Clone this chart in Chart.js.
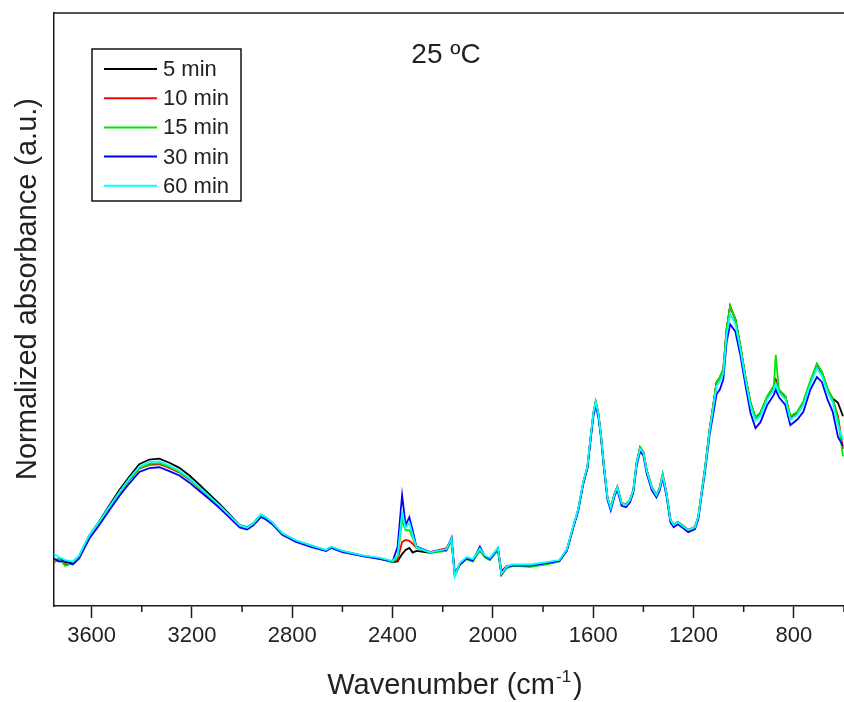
<!DOCTYPE html>
<html>
<head>
<meta charset="utf-8">
<script src="https://cdn.jsdelivr.net/npm/chart.js@4.4.0/dist/chart.umd.min.js"></script>
<style>
  html, body { margin: 0; padding: 0; background: #fff; overflow: hidden; }
</style>
</head>
<body>
<canvas id="grafico" width="844" height="702"></canvas>
<script>
// numero de onda (cm-1), comum a todas as curvas
var wavenumber = [3750,3730,3705,3675,3650,3610,3570,3530,3490,3450,
    3410,3370,3330,3290,3250,3210,3170,3130,3090,3050,
    3010,2980,2955,2925,2905,2880,2840,2785,2720,2665,
    2645,2600,2520,2450,2400,2380,2362,2348,2333,2320,
    2305,2250,2185,2165,2152,2132,2105,2080,2052,2032,
    2012,1980,1966,1944,1920,1850,1785,1735,1705,1680,
    1660,1640,1623,1610,1599,1590,1580,1570,1557,1543,
    1530,1514,1504,1487,1469,1453,1440,1427,1413,1400,
    1387,1367,1348,1335,1323,1308,1292,1279,1263,1247,
    1221,1194,1181,1168,1154,1136,1121,1108,1095,1081,
    1068,1054,1033,1013,993,973,953,933,906,880,
    872,860,834,814,787,762,735,708,688,665,
    645,624,604];

var abs5min = [0.152,0.160,0.148,0.145,0.168,0.236,0.285,0.338,0.390,0.436,
    0.478,0.494,0.497,0.483,0.466,0.440,0.409,0.376,0.344,0.309,
    0.273,0.265,0.279,0.308,0.298,0.281,0.244,0.220,0.202,0.188,
    0.199,0.185,0.170,0.160,0.148,0.150,0.175,0.189,0.196,0.180,
    0.186,0.179,0.190,0.220,0.110,0.140,0.160,0.152,0.188,0.165,
    0.156,0.190,0.105,0.130,0.136,0.134,0.143,0.151,0.189,0.266,
    0.324,0.415,0.469,0.570,0.651,0.688,0.651,0.583,0.469,0.364,
    0.331,0.381,0.401,0.347,0.341,0.358,0.391,0.482,0.534,0.519,
    0.459,0.401,0.374,0.398,0.442,0.381,0.290,0.273,0.283,0.273,
    0.256,0.266,0.300,0.381,0.465,0.594,0.678,0.754,0.770,0.798,
    0.933,1.012,0.966,0.874,0.772,0.685,0.634,0.651,0.705,0.740,
    0.762,0.728,0.705,0.637,0.651,0.686,0.753,0.814,0.787,0.729,
    0.700,0.685,0.640];

var abs10min = [0.148,0.158,0.140,0.142,0.162,0.230,0.279,0.330,0.380,0.424,
    0.463,0.476,0.478,0.466,0.450,0.426,0.397,0.367,0.336,0.304,
    0.270,0.262,0.276,0.306,0.297,0.281,0.244,0.220,0.202,0.188,
    0.198,0.185,0.170,0.161,0.150,0.155,0.216,0.223,0.220,0.210,
    0.196,0.182,0.195,0.226,0.108,0.142,0.162,0.155,0.192,0.168,
    0.160,0.194,0.118,0.135,0.138,0.138,0.146,0.153,0.189,0.266,
    0.325,0.416,0.470,0.571,0.652,0.688,0.652,0.584,0.470,0.364,
    0.332,0.382,0.402,0.348,0.342,0.358,0.391,0.483,0.535,0.520,
    0.460,0.402,0.375,0.399,0.443,0.382,0.291,0.274,0.283,0.274,
    0.257,0.266,0.301,0.382,0.466,0.595,0.680,0.756,0.770,0.798,
    0.933,1.010,0.967,0.875,0.773,0.686,0.635,0.652,0.706,0.741,
    0.760,0.730,0.707,0.638,0.653,0.688,0.756,0.815,0.788,0.730,
    0.697,0.640,0.530];

var abs15min = [0.150,0.160,0.135,0.145,0.165,0.233,0.280,0.331,0.381,0.425,
    0.465,0.479,0.482,0.469,0.452,0.428,0.398,0.368,0.337,0.304,
    0.270,0.263,0.277,0.307,0.297,0.280,0.243,0.219,0.201,0.187,
    0.199,0.184,0.169,0.160,0.148,0.165,0.290,0.256,0.256,0.230,
    0.196,0.179,0.186,0.223,0.101,0.138,0.158,0.150,0.190,0.165,
    0.155,0.192,0.110,0.128,0.135,0.132,0.140,0.150,0.189,0.266,
    0.324,0.415,0.469,0.570,0.651,0.690,0.651,0.583,0.469,0.364,
    0.331,0.381,0.401,0.347,0.341,0.358,0.391,0.482,0.536,0.519,
    0.459,0.401,0.374,0.398,0.445,0.381,0.290,0.273,0.283,0.273,
    0.256,0.266,0.300,0.381,0.465,0.594,0.678,0.755,0.772,0.800,
    0.935,1.012,0.968,0.876,0.774,0.688,0.636,0.653,0.708,0.742,
    0.847,0.730,0.708,0.640,0.655,0.690,0.758,0.818,0.790,0.732,
    0.698,0.630,0.505];

var abs30min = [0.160,0.150,0.152,0.140,0.160,0.226,0.272,0.322,0.370,0.413,
    0.452,0.465,0.468,0.455,0.440,0.416,0.388,0.360,0.330,0.298,
    0.265,0.258,0.272,0.300,0.292,0.276,0.240,0.216,0.198,0.185,
    0.196,0.182,0.168,0.158,0.150,0.200,0.374,0.273,0.300,0.256,
    0.200,0.182,0.190,0.230,0.105,0.140,0.160,0.153,0.200,0.168,
    0.158,0.195,0.112,0.132,0.137,0.136,0.145,0.152,0.186,0.262,
    0.320,0.410,0.464,0.563,0.641,0.675,0.640,0.575,0.462,0.358,
    0.322,0.373,0.392,0.338,0.333,0.350,0.383,0.472,0.522,0.508,
    0.448,0.392,0.366,0.389,0.432,0.372,0.282,0.266,0.276,0.266,
    0.249,0.259,0.292,0.372,0.452,0.576,0.650,0.715,0.730,0.765,
    0.890,0.950,0.925,0.845,0.745,0.652,0.600,0.620,0.678,0.712,
    0.730,0.705,0.678,0.610,0.628,0.655,0.728,0.772,0.755,0.695,
    0.655,0.570,0.540];

var abs60min = [0.175,0.165,0.155,0.150,0.170,0.238,0.284,0.334,0.384,0.430,
    0.470,0.485,0.488,0.474,0.456,0.431,0.401,0.370,0.339,0.306,
    0.272,0.264,0.278,0.308,0.299,0.282,0.245,0.221,0.203,0.189,
    0.200,0.186,0.171,0.162,0.152,0.170,0.313,0.263,0.280,0.240,
    0.198,0.181,0.192,0.228,0.100,0.145,0.165,0.158,0.194,0.170,
    0.162,0.196,0.108,0.134,0.140,0.140,0.148,0.155,0.191,0.268,
    0.326,0.417,0.471,0.572,0.652,0.688,0.650,0.583,0.470,0.365,
    0.330,0.380,0.400,0.346,0.340,0.357,0.390,0.481,0.530,0.517,
    0.457,0.400,0.373,0.397,0.440,0.380,0.290,0.273,0.282,0.272,
    0.256,0.265,0.300,0.380,0.462,0.590,0.672,0.742,0.758,0.785,
    0.915,0.985,0.950,0.865,0.765,0.676,0.625,0.642,0.696,0.730,
    0.750,0.720,0.697,0.628,0.645,0.678,0.746,0.802,0.776,0.720,
    0.685,0.610,0.560];

var tempos = ['5 min', '10 min', '15 min', '30 min', '60 min'];
var cores = ['#000000', '#ff0000', '#00e600', '#0000ff', '#00ffff'];
var series = [abs5min, abs10min, abs15min, abs30min, abs60min];
var ticksMaiores = [3600, 3200, 2800, 2400, 2000, 1600, 1200, 800];
var ticksMenores = [3400, 3000, 2600, 2200, 1800, 1400, 1000, 600];
var titulo = '25 \u00baC';

var fonte = '"Liberation Sans", Arial, sans-serif';

function pontos(valores) {
    var lista = [];
    for (var i = 0; i < wavenumber.length; i++) {
        lista.push({ x: wavenumber[i], y: valores[i] });
    }
    return lista;
}

var datasets = [];
for (var i = 0; i < series.length; i++) {
    datasets.push({
        label: tempos[i],
        data: pontos(series[i]),
        borderColor: cores[i],
        backgroundColor: cores[i],
        borderWidth: 1.8,
        pointRadius: 0,
        fill: false,
        tension: 0,
        order: series.length - i // 60 min por cima
    });
}

// moldura de cima, ticks menores, titulos dos eixos, texto da temperatura e legenda
var extras = {
    id: 'extras',
    afterDraw: function (chart) {
        var ctx = chart.ctx, area = chart.chartArea, sx = chart.scales.x;
        ctx.save();

        ctx.strokeStyle = '#1a1a1a';
        ctx.lineWidth = 1.5;
        ctx.beginPath();
        ctx.moveTo(area.left, area.top);
        ctx.lineTo(area.right, area.top);
        ctx.stroke();

        ticksMenores.forEach(function (v) {
            var px = sx.getPixelForValue(v);
            ctx.beginPath();
            ctx.moveTo(px, area.bottom);
            ctx.lineTo(px, area.bottom + 6);
            ctx.stroke();
        });

        ctx.fillStyle = '#222';

        // titulo do eixo x com sobrescrito
        var t1 = 'Wavenumber (cm', t2 = '-1', t3 = ')';
        ctx.font = '29px ' + fonte;
        var w1 = ctx.measureText(t1).width, w3 = ctx.measureText(t3).width;
        ctx.font = '17px ' + fonte;
        var w2 = ctx.measureText(t2).width;
        var xt = 455 - (w1 + w2 + w3 + 3) / 2;
        var yt = 694;
        ctx.textBaseline = 'alphabetic';
        ctx.textAlign = 'left';
        ctx.font = '29px ' + fonte;
        ctx.fillText(t1, xt, yt);
        ctx.font = '17px ' + fonte;
        ctx.fillText(t2, xt + w1 + 1, yt - 12);
        ctx.font = '29px ' + fonte;
        ctx.fillText(t3, xt + w1 + w2 + 3, yt);

        // titulo do eixo y
        ctx.save();
        ctx.translate(36, 289);
        ctx.rotate(-Math.PI / 2);
        ctx.textAlign = 'center';
        ctx.font = '29px ' + fonte;
        ctx.fillText('Normalized absorbance (a.u.)', 0, 0);
        ctx.restore();

        // temperatura
        ctx.textAlign = 'center';
        ctx.font = '28px ' + fonte;
        ctx.fillText(titulo, (area.left + area.right) / 2 - 3, 63);

        // legenda com caixa
        var x0 = area.left + 38, y0 = area.top + 36;
        ctx.strokeStyle = '#111';
        ctx.lineWidth = 1.5;
        ctx.strokeRect(x0, y0, 149, 152);
        ctx.textAlign = 'left';
        ctx.textBaseline = 'middle';
        ctx.font = '22px ' + fonte;
        chart.data.datasets.forEach(function (ds, k) {
            var y = y0 + 20 + k * 29.2;
            ctx.strokeStyle = ds.borderColor;
            ctx.lineWidth = 2;
            ctx.beginPath();
            ctx.moveTo(x0 + 12, y);
            ctx.lineTo(x0 + 65, y);
            ctx.stroke();
            ctx.fillStyle = '#222';
            ctx.fillText(ds.label, x0 + 71, y + 1);
        });

        ctx.restore();
    }
};

var grafico = new Chart(document.getElementById('grafico').getContext('2d'), {
    type: 'line',
    data: { datasets: datasets },
    options: {
        responsive: false,
        animation: false,
        devicePixelRatio: 1,
        layout: { padding: { top: 13, right: 0, left: 0, bottom: 0 } },
        plugins: {
            legend: { display: false },
            title: { display: false },
            tooltip: { enabled: false }
        },
        scales: {
            x: {
                type: 'linear',
                reverse: true,
                min: 600,
                max: 3750,
                afterBuildTicks: function (scale) {
                    scale.ticks = ticksMaiores.map(function (v) { return { value: v }; });
                },
                afterFit: function (scale) {
                    scale.height = 96;
                    scale.paddingLeft = 0;
                    scale.paddingRight = 0;
                },
                border: { display: true, color: '#1a1a1a', width: 1.5 },
                grid: { drawOnChartArea: false, drawTicks: true, tickLength: 12, tickColor: '#1a1a1a', tickWidth: 1.5 },
                ticks: {
                    autoSkip: false,
                    maxRotation: 0,
                    padding: 5,
                    color: '#222',
                    font: { family: fonte, size: 22 },
                    callback: function (v) { return String(v); }
                }
            },
            y: {
                min: 0,
                max: 2,
                afterFit: function (scale) { scale.width = 54; },
                border: { display: true, color: '#1a1a1a', width: 1.5 },
                grid: { drawOnChartArea: false, drawTicks: false },
                ticks: { display: false }
            }
        }
    },
    plugins: [extras]
});
</script>
</body>
</html>
